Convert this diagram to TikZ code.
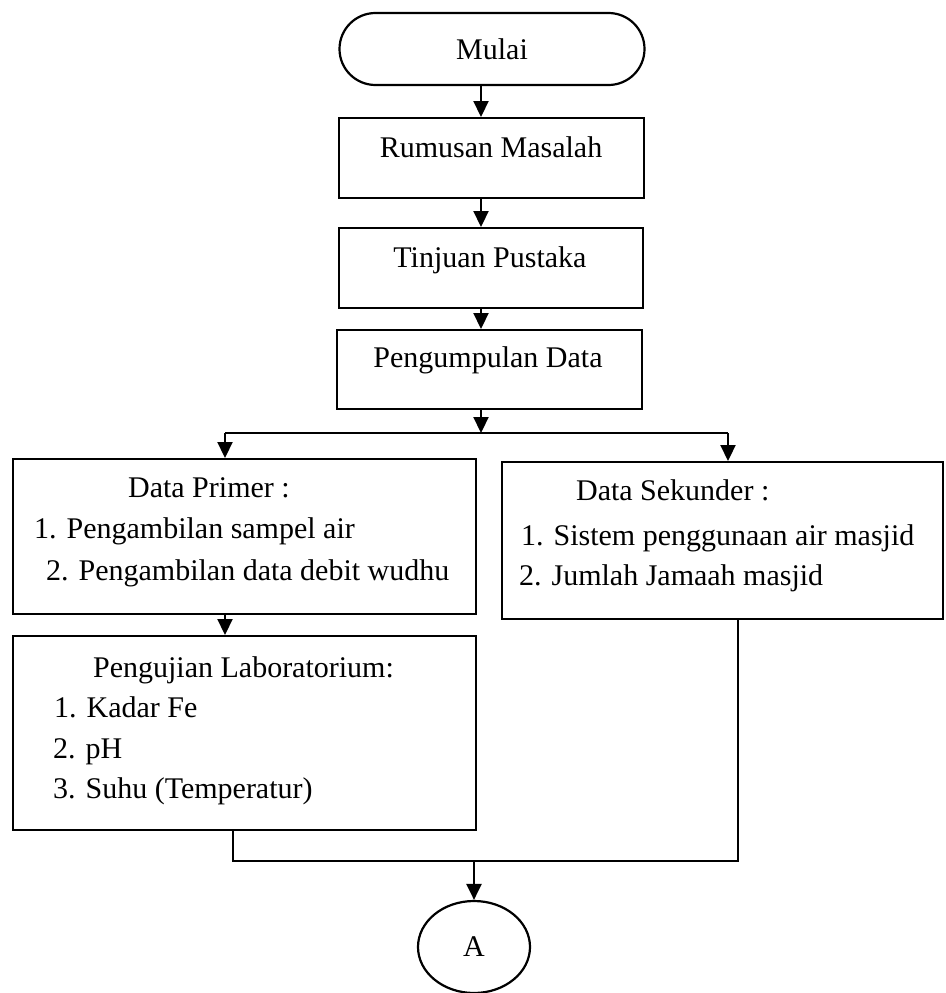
\documentclass[tikz,border=0pt]{standalone}
\usepackage{fontspec}
\setmainfont{Liberation Serif}
\usetikzlibrary{arrows.meta,shapes.geometric,shapes.misc}
\begin{document}
\begin{tikzpicture}[x=1pt,y=-1pt,line width=2.2pt,
  box/.style={draw,rectangle,inner sep=0pt,anchor=north west},
  txt/.style={inner sep=0pt,font=\fontsize{30}{41}\selectfont},
  arr/.style={-{Triangle[length=16pt,width=15pt]}}]
\useasboundingbox (0,0) rectangle (945,993);
% nodes
\node[draw,rounded rectangle,minimum width=305pt,minimum height=72pt,inner sep=0pt,txt] (mulai) at (492,49) {Mulai};
\node[box,minimum width=305pt,minimum height=80pt] (rumusan) at (338,117) {};
\node[txt,anchor=base] (rumusant) at (491,157) {Rumusan Masalah};
\node[box,minimum width=304pt,minimum height=80pt] (tinjuan) at (338,227) {};
\node[txt,anchor=base] (tinjuant) at (490,267) {Tinjuan Pustaka};
\node[box,minimum width=305pt,minimum height=79pt] (kumpul) at (336,329) {};
\node[txt,anchor=base] (kumpult) at (488,367) {Pengumpulan Data};
\node[box,minimum width=463pt,minimum height=155pt] (primer) at (12,458) {};
\node[txt,anchor=base west] (primer0) at (127,497) {Data Primer :};
\node[txt,anchor=base west] (primer1) at (33,538) {1. Pengambilan sampel air};
\node[txt,anchor=base west] (primer2) at (45,580) {2. Pengambilan data debit wudhu};
\node[box,minimum width=441pt,minimum height=157pt] (sekunder) at (501,461) {};
\node[txt,anchor=base west] (sekunder0) at (575,500) {Data Sekunder :};
\node[txt,anchor=base west] (sekunder1) at (520,545) {1. Sistem penggunaan air masjid};
\node[txt,anchor=base west] (sekunder2) at (518,585) {2. Jumlah Jamaah masjid};
\node[box,minimum width=463pt,minimum height=194pt] (uji) at (12,635) {};
\node[txt,anchor=base west] (uji0) at (92,677) {Pengujian Laboratorium:};
\node[txt,anchor=base west] (uji1) at (53,717) {1. Kadar Fe};
\node[txt,anchor=base west] (uji2) at (52,758) {2. pH};
\node[txt,anchor=base west] (uji3) at (52,798) {3. Suhu (Temperatur)};
\node[draw,ellipse,minimum width=112pt,minimum height=92pt,inner sep=0pt,txt] (A) at (474,947) {A};
% coordinates
\coordinate (ax) at (481,0);
\coordinate (split) at (481,433);
\coordinate (spl) at (225,433);
\coordinate (spr) at (728,433);
\coordinate (jl) at (233,861);
\coordinate (jr) at (738,861);
\coordinate (jm) at (474,861);
% connectors
\draw[arr] (mulai.south -| ax) -- (rumusan.north -| ax);
\draw[arr] (rumusan.south -| ax) -- (tinjuan.north -| ax);
\draw[arr] (tinjuan.south -| ax) -- (kumpul.north -| ax);
\draw[arr] (kumpul.south -| ax) -- (split);
\draw (spl) -- (spr);
\draw[arr] (spl) -- (primer.north -| spl);
\draw[arr] (spr) -- (sekunder.north -| spr);
\draw[arr] (primer.south -| spl) -- (uji.north -| spl);
\draw (uji.south -| jl) -- (jl) -- (jr) -- (sekunder.south -| jr);
\draw[arr] (jm) -- (A.north);
\end{tikzpicture}
\end{document}
